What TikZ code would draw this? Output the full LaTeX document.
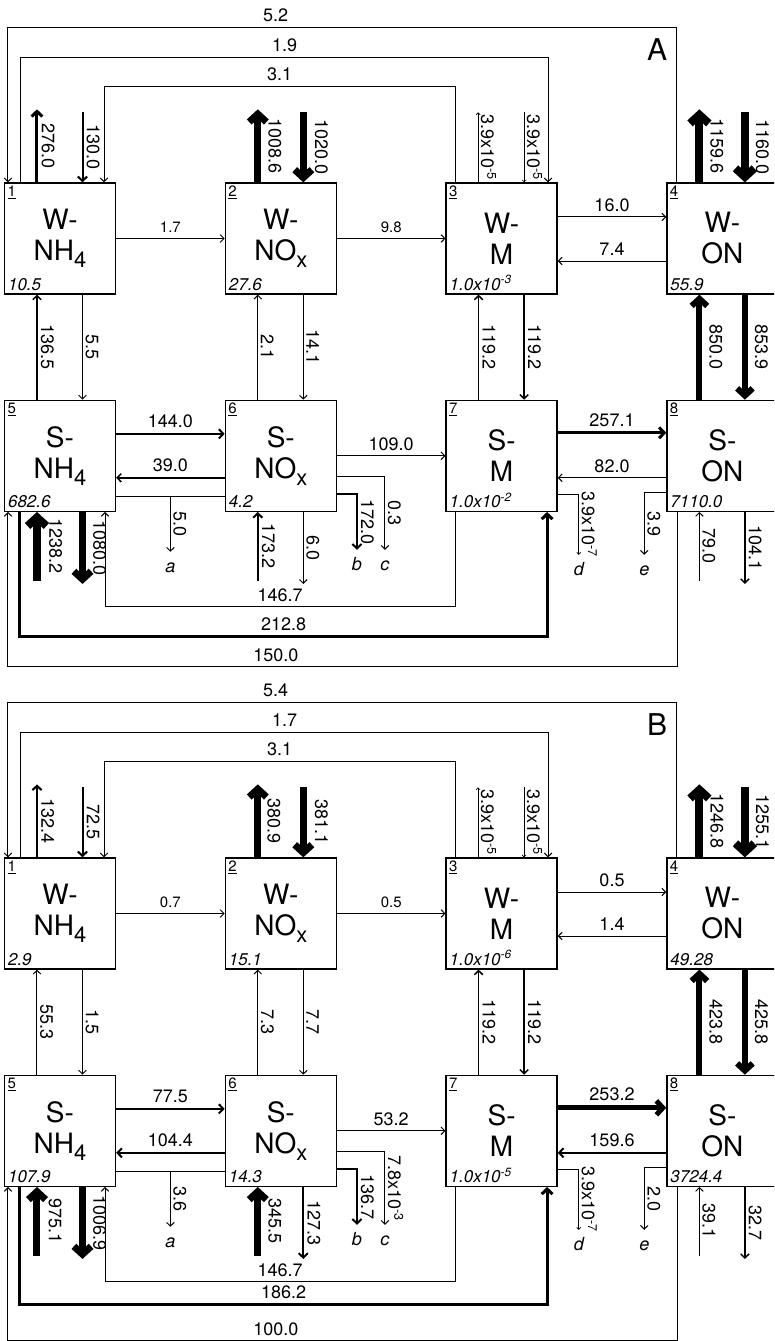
\documentclass[tikz,border=0pt]{standalone}
\usepackage{fontspec}
\setmainfont{TeX Gyre Heros}
\usetikzlibrary{arrows.meta,positioning}
\newcommand{\lowidx}[1]{\raisebox{-7pt}{\fontsize{22}{22}\selectfont #1}}
\newcommand{\sci}[2]{#1x10\textsuperscript{#2}}
\tikzset{box/.style={draw,line width=1.3pt,minimum size=111pt,inner sep=0pt,
  align=center,font=\fontsize{28}{31}\selectfont},
  num/.style={anchor=north west,inner sep=3.5pt,font=\fontsize{15}{15}\selectfont},
  val/.style={anchor=south west,inner sep=4pt,font=\fontsize{17}{17}\selectfont\itshape},
  flow/.style={line width=#1,-{Straight Barb[length=3pt 0.7,width=6pt 1.6]}},
  flow/.default=1pt,
  trace/.style={line width=0.6pt,-{Straight Barb[length=2pt,width=4pt]}},
  link/.style={line width=1pt},
  lbl/.style={font=\fontsize{18}{18}\selectfont,inner sep=2pt},
  hlbl/.style={lbl,above=3pt},
  hsmall/.style={hlbl,font=\fontsize{15}{15}\selectfont},
  vlbl/.style={lbl,rotate=-90,anchor=south,inner sep=#1},
  vlbl/.default=2.5pt,
  sink/.style={anchor=base,yshift=-21pt,font=\fontsize{18}{18}\selectfont\itshape},
  tag/.style={font=\fontsize{30}{30}\selectfont}}
\begin{document}
\begin{tikzpicture}[x=1pt,y=1pt,node distance=105pt and 108.5pt]
\useasboundingbox (-60,238.5) rectangle (714,-1102.5);
\clip (-60,238.5) rectangle (714,-1102.5);
% panel A
\node[box,label={[num]north west:\underline{1}},label={[val]south west:10.5}] (a1) at (0,0) {W-\\NH\lowidx{4}};
\node[box,right=of a1,label={[num]north west:\underline{2}},label={[val]south west:27.6}] (a2) {W-\\NO\lowidx{x}};
\node[box,right=of a2,label={[num]north west:\underline{3}},label={[val]south west:\sci{1.0}{-3}}] (a3) {W-\\M};
\node[box,right=of a3,label={[num]north west:\underline{4}},label={[val]south west:55.9}] (a4) {W-\\ON};
\node[box,below=of a1,label={[num]north west:\underline{5}},label={[val]south west:682.6}] (a5) {S-\\NH\lowidx{4}};
\node[box,right=of a5,label={[num]north west:\underline{6}},label={[val]south west:4.2}] (a6) {S-\\NO\lowidx{x}};
\node[box,right=of a6,label={[num]north west:\underline{7}},label={[val]south west:\sci{1.0}{-2}}] (a7) {S-\\M};
\node[box,right=of a7,label={[num]north west:\underline{8}},label={[val]south west:7110.0}] (a8) {S-\\ON};
\node[tag] (ta) at (597,188.5) {A};

\draw[flow] ([xshift=-45.5pt]a4.north) -- ++(0,155) -| ([xshift=-52pt]a1.north) node[pos=0.3,hlbl]{5.2};
\draw[flow] ([xshift=-39pt]a1.north) -- ++(0,125) -| ([xshift=46.5pt]a3.north) node[pos=0.25,hlbl]{1.9};
\draw[flow] ([xshift=-46.5pt]a3.north) -- ++(0,96) -| ([xshift=44pt]a1.north) node[pos=0.25,hlbl]{3.1};
\foreach \n/\w/\s/\t in {a1/3pt/3pt/276.0,a2/7pt/7pt/1008.6,a4/8pt/7pt/1159.6}
  \draw[flow=\w] ([xshift=-23pt]\n.north) -- ++(0,73) node[midway,vlbl=\s]{\t};
\foreach \n/\w/\s/\t in {a1/2pt/3pt/130.0,a2/7pt/8pt/1020.0,a4/8pt/7pt/1160.0}
  \draw[flow=\w] ([xshift=22.5pt]\n.north) ++(0,70) -- ++(0,-70) node[midway,vlbl=\s]{\t};
\draw[trace] ([xshift=-23.5pt]a3.north) -- ++(0,70) node[midway,vlbl]{\sci{3.9}{-5}};
\draw[trace] ([xshift=22.5pt]a3.north) ++(0,70) -- ++(0,-70) node[midway,vlbl]{\sci{3.9}{-5}};

\draw[flow] (a1) -- (a2) node[midway,hsmall]{1.7};
\draw[flow] (a2) -- (a3) node[midway,hsmall]{9.8};
\draw[flow] ([yshift=21.5pt]a3.east) -- ([yshift=21.5pt]a4.west) node[midway,hlbl]{16.0};
\draw[flow] ([yshift=-22.5pt]a4.west) -- ([yshift=-22.5pt]a3.east) node[midway,hlbl]{7.4};

\foreach \a/\b/\w/\s/\t in {a1/a5/1.5pt/3pt/136.5,a2/a6/1pt/2.5pt/2.1,a3/a7/1.5pt/3pt/119.2,a4/a8/6pt/7pt/850.0}
  \draw[flow=\w] ([xshift=-23pt]\b.north) -- ([xshift=-23pt]\a.south) node[midway,vlbl=\s]{\t};
\foreach \a/\b/\w/\s/\t in {a1/a5/1pt/2.5pt/5.5,a2/a6/1pt/2.5pt/14.1,a3/a7/1.5pt/3pt/119.2,a4/a8/6pt/7pt/853.9}
  \draw[flow=\w] ([xshift=22.5pt]\a.south) -- ([xshift=22.5pt]\b.north) node[midway,vlbl=\s]{\t};

\draw[flow=2pt] ([yshift=22pt]a5.east) -- ([yshift=22pt]a6.west) node[midway,hlbl]{144.0};
\draw[flow=1.5pt] ([yshift=-22pt]a6.west) -- ([yshift=-22pt]a5.east) node[midway,hlbl]{39.0};
\draw[flow] (a6) -- (a7) node[midway,hlbl]{109.0};
\draw[flow=3pt] ([yshift=23pt]a7.east) -- ([yshift=23pt]a8.west) node[midway,hlbl]{257.1};
\draw[flow] ([yshift=-22pt]a8.west) -- ([yshift=-22pt]a7.east) node[midway,hlbl]{82.0};

\draw[link] ([yshift=-41pt]a5.east) -- coordinate (ja) ([yshift=-41pt]a6.west);
\draw[flow] (ja) -- ++(0,-55) node[midway,vlbl]{5.0} node[sink]{a};
\draw[flow=2pt] ([yshift=-38pt]a6.east) -- ++(20,0) -- ++(0,-56) node[midway,vlbl=3pt]{172.0} node[sink]{b};
\draw[flow] ([yshift=-21pt]a6.east) -- ++(48,0) -- ++(0,-73) node[midway,vlbl]{0.3} node[sink]{c};
\draw[trace] ([yshift=-38pt]a7.east) -- ++(21,0) -- ++(0,-61) node[midway,vlbl]{\sci{3.9}{-7}} node[sink]{d};
\draw[flow] ([yshift=-37pt]a8.west) -- ++(-22,0) -- ++(0,-62) node[midway,vlbl]{3.9} node[sink]{e};

\foreach \n/\w/\s/\t in {a5/8pt/8pt/1238.2,a6/2pt/3pt/173.2,a8/1pt/2.5pt/79.0}
  \draw[flow=\w] ([xshift=-23pt]\n.south) ++(0,-69) -- ++(0,69) node[midway,vlbl=\s]{\t};
\foreach \n/\w/\s/\t in {a5/7pt/7pt/1080.0,a6/1pt/2.5pt/6.0,a8/1.5pt/3pt/104.1}
  \draw[flow=\w] ([xshift=22.5pt]\n.south) -- ++(0,-72) node[midway,vlbl=\s]{\t};

\draw[flow] ([xshift=-46.5pt]a7.south) -- ++(0,-95) -| ([xshift=45pt]a5.south) node[pos=0.25,hlbl]{146.7};
\draw[flow=3pt] ([xshift=-40pt]a5.south) -- ++(0,-125) -| ([xshift=45.5pt]a7.south) node[pos=0.25,hlbl]{212.8};
\draw[flow] ([xshift=-44.5pt]a8.south) -- ++(0,-155) -| ([xshift=-52pt]a5.south) node[pos=0.3,hlbl]{150.0};

% panel B
\node[box,label={[num]north west:\underline{1}},label={[val]south west:2.9}] (b1) at (0,-675) {W-\\NH\lowidx{4}};
\node[box,right=of b1,label={[num]north west:\underline{2}},label={[val]south west:15.1}] (b2) {W-\\NO\lowidx{x}};
\node[box,right=of b2,label={[num]north west:\underline{3}},label={[val]south west:\sci{1.0}{-6}}] (b3) {W-\\M};
\node[box,right=of b3,label={[num]north west:\underline{4}},label={[val]south west:49.28}] (b4) {W-\\ON};
\node[box,below=of b1,label={[num]north west:\underline{5}},label={[val]south west:107.9}] (b5) {S-\\NH\lowidx{4}};
\node[box,right=of b5,label={[num]north west:\underline{6}},label={[val]south west:14.3}] (b6) {S-\\NO\lowidx{x}};
\node[box,right=of b6,label={[num]north west:\underline{7}},label={[val]south west:\sci{1.0}{-5}}] (b7) {S-\\M};
\node[box,right=of b7,label={[num]north west:\underline{8}},label={[val]south west:3724.4}] (b8) {S-\\ON};
\node[tag] (tb) at (597,-486.5) {B};

\draw[flow] ([xshift=-45.5pt]b4.north) -- ++(0,155) -| ([xshift=-52pt]b1.north) node[pos=0.3,hlbl]{5.4};
\draw[flow] ([xshift=-39pt]b1.north) -- ++(0,125) -| ([xshift=46.5pt]b3.north) node[pos=0.25,hlbl]{1.7};
\draw[flow] ([xshift=-46.5pt]b3.north) -- ++(0,96) -| ([xshift=44pt]b1.north) node[pos=0.25,hlbl]{3.1};
\foreach \n/\w/\s/\t in {b1/2pt/3pt/132.4,b2/7pt/6pt/380.9,b4/8pt/7pt/1246.8}
  \draw[flow=\w] ([xshift=-23pt]\n.north) -- ++(0,73) node[midway,vlbl=\s]{\t};
\foreach \n/\w/\s/\t in {b1/2pt/3pt/72.5,b2/7pt/8pt/381.1,b4/8pt/7pt/1255.1}
  \draw[flow=\w] ([xshift=22.5pt]\n.north) ++(0,70) -- ++(0,-70) node[midway,vlbl=\s]{\t};
\draw[trace] ([xshift=-23.5pt]b3.north) -- ++(0,70) node[midway,vlbl]{\sci{3.9}{-5}};
\draw[trace] ([xshift=22.5pt]b3.north) ++(0,70) -- ++(0,-70) node[midway,vlbl]{\sci{3.9}{-5}};

\draw[flow] (b1) -- (b2) node[midway,hsmall]{0.7};
\draw[flow] (b2) -- (b3) node[midway,hsmall]{0.5};
\draw[flow] ([yshift=21.5pt]b3.east) -- ([yshift=21.5pt]b4.west) node[midway,hlbl]{0.5};
\draw[flow] ([yshift=-22.5pt]b4.west) -- ([yshift=-22.5pt]b3.east) node[midway,hlbl]{1.4};

\foreach \a/\b/\w/\s/\t in {b1/b5/1pt/2.5pt/55.3,b2/b6/1pt/2.5pt/7.3,b3/b7/1.5pt/3pt/119.2,b4/b8/6pt/7pt/423.8}
  \draw[flow=\w] ([xshift=-23pt]\b.north) -- ([xshift=-23pt]\a.south) node[midway,vlbl=\s]{\t};
\foreach \a/\b/\w/\s/\t in {b1/b5/1pt/2.5pt/1.5,b2/b6/1pt/2.5pt/7.7,b3/b7/1.5pt/3pt/119.2,b4/b8/6pt/7pt/425.8}
  \draw[flow=\w] ([xshift=22.5pt]\a.south) -- ([xshift=22.5pt]\b.north) node[midway,vlbl=\s]{\t};

\draw[flow=2pt] ([yshift=22pt]b5.east) -- ([yshift=22pt]b6.west) node[midway,hlbl]{77.5};
\draw[flow=2pt] ([yshift=-22pt]b6.west) -- ([yshift=-22pt]b5.east) node[midway,hlbl]{104.4};
\draw[flow] (b6) -- (b7) node[midway,hlbl]{53.2};
\draw[flow=5pt] ([yshift=23pt]b7.east) -- ([yshift=23pt]b8.west) node[midway,hlbl]{253.2};
\draw[flow=2pt] ([yshift=-22pt]b8.west) -- ([yshift=-22pt]b7.east) node[midway,hlbl]{159.6};

\draw[link] ([yshift=-41pt]b5.east) -- coordinate (jb) ([yshift=-41pt]b6.west);
\draw[flow] (jb) -- ++(0,-55) node[midway,vlbl]{3.6} node[sink]{a};
\draw[flow=2pt] ([yshift=-38pt]b6.east) -- ++(20,0) -- ++(0,-56) node[midway,vlbl=3pt]{136.7} node[sink]{b};
\draw[flow] ([yshift=-21pt]b6.east) -- ++(48,0) -- ++(0,-73) node[midway,vlbl]{\sci{7.8}{-3}} node[sink]{c};
\draw[trace] ([yshift=-38pt]b7.east) -- ++(21,0) -- ++(0,-61) node[midway,vlbl]{\sci{3.9}{-7}} node[sink]{d};
\draw[flow] ([yshift=-37pt]b8.west) -- ++(-22,0) -- ++(0,-62) node[midway,vlbl]{2.0} node[sink]{e};

\foreach \n/\w/\s/\t in {b5/7pt/8pt/975.1,b6/7pt/7pt/345.5,b8/1pt/2.5pt/39.1}
  \draw[flow=\w] ([xshift=-23pt]\n.south) ++(0,-69) -- ++(0,69) node[midway,vlbl=\s]{\t};
\foreach \n/\w/\s/\t in {b5/7pt/7pt/1006.9,b6/2pt/3pt/127.3,b8/1.5pt/3pt/32.7}
  \draw[flow=\w] ([xshift=22.5pt]\n.south) -- ++(0,-72) node[midway,vlbl=\s]{\t};

\draw[flow] ([xshift=-46.5pt]b7.south) -- ++(0,-95) -| ([xshift=45pt]b5.south) node[pos=0.25,hlbl]{146.7};
\draw[flow=3pt] ([xshift=-40pt]b5.south) -- ++(0,-118) -| ([xshift=45.5pt]b7.south) node[pos=0.25,hlbl]{186.2};
\draw[flow] ([xshift=-44.5pt]b8.south) -- ++(0,-154) -| ([xshift=-52pt]b5.south) node[pos=0.3,hlbl]{100.0};
\end{tikzpicture}
\end{document}
